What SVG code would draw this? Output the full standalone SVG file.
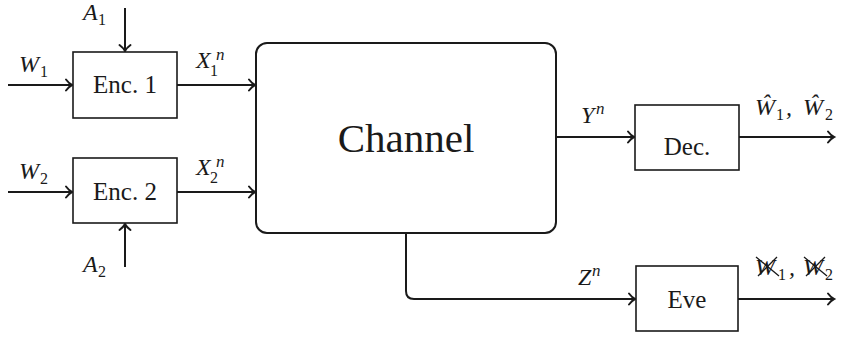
<svg xmlns="http://www.w3.org/2000/svg" width="841" height="339" viewBox="0 0 841 339">
<style>
.box{fill:#fff;stroke:#1a1a1a;stroke-width:1.6}
.ch{fill:#fff;stroke:#1a1a1a;stroke-width:2}
.ln{fill:none;stroke:#1a1a1a;stroke-width:2}
.x{fill:none;stroke:#1a1a1a;stroke-width:1.3}
text{font-family:'Liberation Serif', serif;fill:#1a1a1a}
.bl{font-size:25px;text-anchor:middle}
.m{font-style:italic;font-size:24px}
.s{font-size:16px}
.si{font-style:italic;font-size:17px}
</style>
<defs>
<marker id="arr" markerWidth="14" markerHeight="14" refX="10" refY="7" orient="auto" markerUnits="userSpaceOnUse">
<path d="M4,1.5 Q7,5.5 10,7 Q7,8.5 4,12.5" fill="none" stroke="#1a1a1a" stroke-width="2" stroke-linecap="round"/>
</marker>
</defs>
<g id="connectors">
<line class="ln" x1="8" y1="85" x2="72" y2="85" marker-end="url(#arr)"/>
<line class="ln" x1="125" y1="8" x2="125" y2="51" marker-end="url(#arr)"/>
<line class="ln" x1="177" y1="85" x2="255" y2="85" marker-end="url(#arr)"/>
<line class="ln" x1="8" y1="192" x2="72" y2="192" marker-end="url(#arr)"/>
<line class="ln" x1="125" y1="267" x2="125" y2="224" marker-end="url(#arr)"/>
<line class="ln" x1="177" y1="192" x2="255" y2="192" marker-end="url(#arr)"/>
<line class="ln" x1="556" y1="137" x2="634" y2="137" marker-end="url(#arr)"/>
<line class="ln" x1="739" y1="137" x2="834" y2="137" marker-end="url(#arr)"/>
<path class="ln" d="M406,233 V291 Q406,299 414,299 H635" marker-end="url(#arr)"/>
<line class="ln" x1="738" y1="299" x2="834" y2="299" marker-end="url(#arr)"/>
</g>
<g id="enc1">
<rect class="box" x="73" y="52" width="104" height="66"/>
<text class="bl" x="125" y="93" font-family="Liberation Serif, serif">Enc. 1</text>
</g>
<g id="enc2">
<rect class="box" x="73" y="158" width="104" height="65"/>
<text class="bl" x="125" y="200" font-family="Liberation Serif, serif">Enc. 2</text>
</g>
<g id="channel">
<rect class="ch" x="256" y="43" width="300" height="190" rx="11" ry="11"/>
<text x="406" y="152" font-size="41" text-anchor="middle" font-family="Liberation Serif, serif">Channel</text>
</g>
<g id="dec">
<rect class="box" x="635" y="105" width="104" height="65"/>
<text class="bl" x="687" y="155" font-family="Liberation Serif, serif">Dec.</text>
</g>
<g id="eve">
<rect class="box" x="636" y="266" width="102" height="65"/>
<text class="bl" x="687" y="308" font-family="Liberation Serif, serif">Eve</text>
</g>
<g id="labels" font-family="Liberation Serif, serif">
<text class="m" x="19" y="72">W</text><text class="s" x="40" y="77">1</text>
<text class="m" x="83" y="20">A</text><text class="s" x="98" y="25">1</text>
<text class="m" x="196" y="68">X</text><text class="s" x="210" y="76">1</text><text class="si" x="216" y="60">n</text>
<text class="m" x="19" y="179">W</text><text class="s" x="40" y="184">2</text>
<text class="m" x="83" y="272">A</text><text class="s" x="98" y="277">2</text>
<text class="m" x="196" y="175">X</text><text class="s" x="210" y="183">2</text><text class="si" x="216" y="167">n</text>
<text class="m" x="581" y="123">Y</text><text class="si" x="596" y="114">n</text>
<text class="m" x="755" y="115">Ŵ</text><text class="s" x="776" y="120">1</text><text class="m" x="786" y="115">,</text>
<text class="m" x="803" y="115">Ŵ</text><text class="s" x="825" y="120">2</text>
<text class="m" x="578" y="285">Z</text><text class="si" x="592" y="276">n</text>
<text class="m" x="755" y="275">W</text><text class="s" x="778" y="280">1</text><text class="m" x="789" y="275">,</text>
<text class="m" x="803" y="275">W</text><text class="s" x="825" y="280">2</text>
<path class="x" d="M756,257 L779,276 M777,257 L758,276 M804,257 L827,276 M825,257 L806,276"/>
</g>
</svg>
